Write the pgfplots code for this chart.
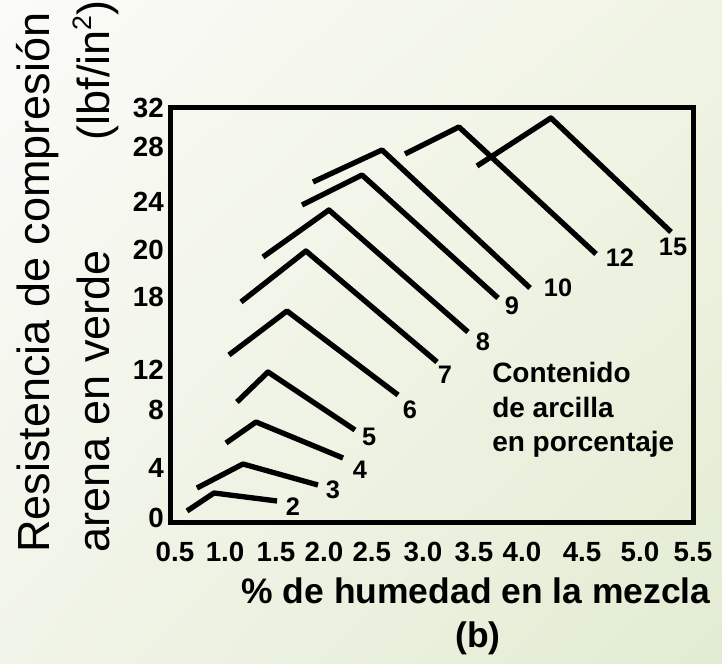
\documentclass[border=0pt]{standalone}
\usepackage{fontspec}
\setmainfont{Liberation Sans}
\usepackage{pgfplots}
\pgfplotsset{compat=1.18}
\usetikzlibrary{shadings}
\definecolor{bgUL}{RGB}{251,251,248}
\definecolor{bgUR}{RGB}{240,244,228}
\definecolor{bgLL}{RGB}{241,244,232}
\definecolor{bgLR}{RGB}{226,236,210}
\pgfplotsset{curve/.style={black, solid, line width=4pt, line join=round, mark=none}}
\begin{document}
\begin{tikzpicture}
\shade[upper left=bgUL, upper right=bgUR, lower left=bgLL, lower right=bgLR] (0pt,0pt) rectangle (541.5pt,498pt);
\useasboundingbox (0pt,0pt) rectangle (541.5pt,498pt);
\begin{axis}[
  at={(127.5pt,105.75pt)}, anchor=south west,
  scale only axis, width=392.25pt, height=311.25pt,
  xmin=0.4517, xmax=5.5, ymin=-0.389, ymax=31.93,
  axis line style={line width=3.75pt, line join=miter},
  major tick length=0pt,
  xtick={0.5,0.983,1.475,1.938,2.40,2.894,3.386,3.849,4.429,4.988,5.5},
  xticklabels={0.5,1.0,1.5,2.0,2.5,3.0,3.5,4.0,4.5,5.0,5.5},
  ytick={0,3.89,8.41,11.53,17.21,20.87,24.61,28.89,31.93},
  yticklabels={0,4,8,12,18,20,24,28,32},
  xticklabel style={font=\bfseries\fontsize{20.8}{24}\selectfont, inner sep=0pt, anchor=north, yshift=-14.25pt},
  yticklabel style={font=\bfseries\fontsize{20.8}{24}\selectfont, inner sep=0pt, anchor=east, xshift=-4.5pt},
  clip=false,
]
\addplot[curve] coordinates {(0.616,0.545) (0.876,1.947) (1.485,1.324)};
\addplot[curve] coordinates {(0.712,2.336) (1.156,4.206) (1.880,2.570)};
\addplot[curve] coordinates {(0.992,5.841) (1.282,7.477) (2.122,4.673)};
\addplot[curve] coordinates {(1.098,9.034) (1.398,11.371) (2.237,6.854)};
\addplot[curve] coordinates {(1.021,12.695) (1.581,16.121) (2.653,9.579)};
\addplot[curve] coordinates {(1.137,16.822) (1.764,20.794) (3.029,12.150)};
\addplot[curve] coordinates {(1.349,20.327) (1.986,23.988) (3.328,14.486)};
\addplot[curve] coordinates {(1.726,24.377) (2.305,26.713) (3.618,17.134)};
\addplot[curve] coordinates {(1.832,26.168) (2.498,28.660) (3.927,17.913)};
\addplot[curve] coordinates {(2.720,28.349) (3.241,30.452) (4.564,20.561)};
\addplot[curve] coordinates {(3.415,27.414) (4.129,31.153) (5.288,22.274)};
\begin{scope}[every node/.style={font=\bfseries\fontsize{19}{22}\selectfont, inner sep=0pt}]
\node at (axis cs:1.639,0.857) {2};
\node at (axis cs:2.025,2.181) {3};
\node at (axis cs:2.286,3.738) {4};
\node at (axis cs:2.373,6.308) {5};
\node at (axis cs:2.768,8.411) {6};
\node at (axis cs:3.106,11.137) {7};
\node at (axis cs:3.473,13.707) {8};
\node at (axis cs:3.753,16.511) {9};
\node at (axis cs:4.197,17.913) {10};
\node at (axis cs:4.795,20.249) {12};
\node at (axis cs:5.307,21.106) {15};
\end{scope}
\end{axis}
\begin{scope}[every node/.style={font=\bfseries\fontsize{21}{24}\selectfont, inner sep=0pt, anchor=base west}]
\node at (369pt,210.75pt) {Contenido};
\node at (369pt,184.5pt) {de arcilla};
\node at (369pt,159pt) {en porcentaje};
\end{scope}
\begin{scope}[every node/.style={font=\fontsize{33.75}{40}\selectfont, inner sep=0pt, anchor=base west, rotate=90}]
\node at (37.5pt,83.25pt) {Resistencia de compresión};
\node at (82.5pt,83.25pt) {arena en verde};
\node at (82.5pt,392.5pt) {(lbf/in\raisebox{0.42em}{\fontsize{20}{24}\selectfont 2})};
\end{scope}
\node[font=\bfseries\fontsize{26.6}{31}\selectfont, inner sep=0pt, anchor=base] at (357pt,45pt) {\% de humedad en la mezcla};
\node[font=\bfseries\fontsize{26.6}{31}\selectfont, inner sep=0pt, anchor=base] at (358.5pt,12pt) {(b)};
\end{tikzpicture}
\end{document}
